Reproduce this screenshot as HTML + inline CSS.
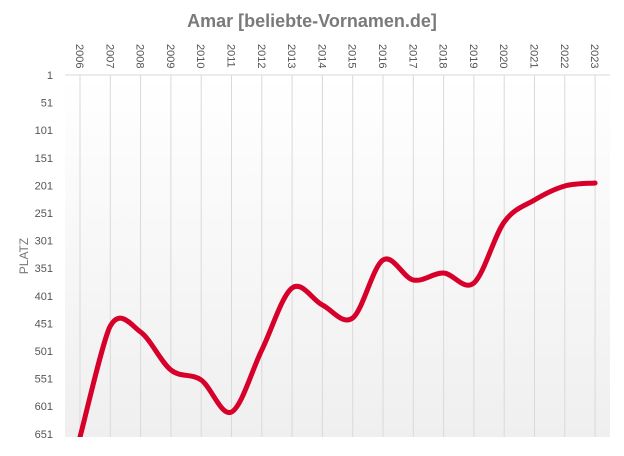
<!DOCTYPE html>
<html><head><style>body{margin:0;background:#fff}</style></head><body>
<svg width="624" height="451" xmlns="http://www.w3.org/2000/svg" font-family="Liberation Sans, sans-serif">
<defs>
<linearGradient id="g" x1="0" y1="0" x2="0" y2="1"><stop offset="0" stop-color="#fff"/><stop offset="1" stop-color="#efefef"/></linearGradient>
<clipPath id="c"><rect x="65" y="75" width="545" height="362"/></clipPath>
</defs>
<text x="312" y="27" text-anchor="middle" font-size="18" font-weight="bold" fill="#7a7a7a">Amar [beliebte-Vornamen.de]</text>
<rect x="65" y="75" width="545" height="362" fill="url(#g)"/>
<line x1="65" y1="75" x2="610" y2="75" stroke="#d9d9d9"/>
<g stroke="#d9d9d9" id="vl"></g>
<g font-size="11" fill="#555" text-anchor="end" id="yl"></g>
<g font-size="11" fill="#555" id="xl"></g>
<text x="28" y="256" font-size="12" fill="#777" text-anchor="middle" transform="rotate(-90 28 256)">PLATZ</text>
<path id="p" clip-path="url(#c)" fill="none" stroke="#d6002a" stroke-width="5" stroke-linecap="round"/>
</svg>
<script>
var ns="http://www.w3.org/2000/svg";
function el(t,a,p,txt){var e=document.createElementNS(ns,t);for(var k in a)e.setAttribute(k,a[k]);if(txt)e.textContent=txt;document.getElementById(p).appendChild(e);}
var X=function(i){return 80+i*30.3};
for(var i=0;i<18;i++){el("line",{x1:X(i),y1:75,x2:X(i),y2:437},"vl");
var x=X(i)-4,y=44;el("text",{x:x,y:y,transform:"rotate(90 "+x+" "+y+")"},"xl",String(2006+i));}
for(var j=0;j<14;j++){var v=1+50*j;el("text",{x:53,y:75+j*27.6+4},"yl",String(v));}
var Y=[437,326,332,370,380,412,350,288,305,318,260,280,273,283,222,200,186,183];
var P=Y.map(function(y,i){return[X(i),y]});
var d="M"+P[0];
for(var i=0;i<P.length-1;i++){var p0=P[i-1]||P[i],p1=P[i],p2=P[i+1],p3=P[i+2]||p2;
var t=(i==0)?9:6;
d+=" C"+(p1[0]+(p2[0]-p0[0])/6)+","+(p1[1]+(p2[1]-p0[1])/6)+" "+(p2[0]-(p3[0]-p1[0])/t)+","+(p2[1]-(p3[1]-p1[1])/t)+" "+p2[0]+","+p2[1];}
document.getElementById("p").setAttribute("d",d);
</script>
</body></html>
